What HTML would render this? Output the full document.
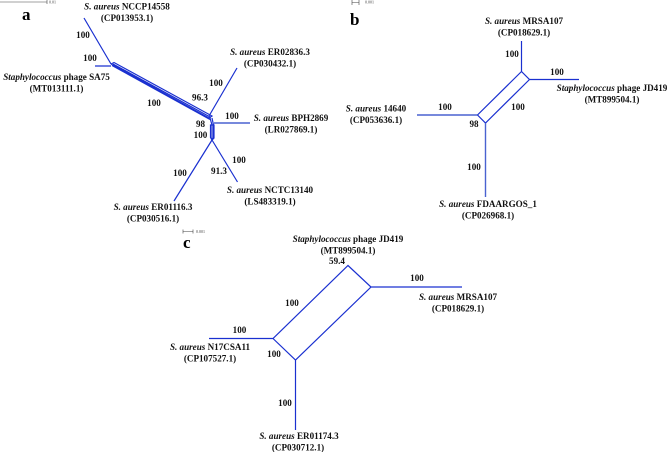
<!DOCTYPE html>
<html>
<head>
<meta charset="utf-8">
<style>
html,body{margin:0;padding:0;background:#fff;width:669px;height:452px;overflow:hidden}
svg{display:block;filter:blur(.25px)}
text{font-family:"Liberation Serif",serif;font-weight:bold;font-size:9.1px;fill:#111;text-anchor:middle}
tspan.i{font-style:italic}
text.p{font-size:17px;fill:#000;text-anchor:start}
text.s{font-size:4px;font-weight:normal;text-anchor:start;fill:#444}
.l{stroke:#1a30d0;stroke-width:1.2;fill:none}
.t{stroke:#4a62d0;stroke-width:1.4;fill:none}
.sb{stroke:#444;stroke-width:.6;fill:none}
</style>
</head>
<body>
<svg width="669" height="452" viewBox="0 0 669 452" xmlns="http://www.w3.org/2000/svg">
<!-- Panel a -->
<path class="sb" d="M0 2H47M47 0V4"/>
<text class="s" x="49" y="3.5">0.01</text>
<text class="p" x="22" y="20">a</text>
<path class="l" d="M84 18L111 64M95 66H111"/>
<path class="l" d="M111 64L114 62.500L212 116L209 118L111 64M112 65.500L210 119.500M113 64L211 117.500"/>
<path class="l" d="M209 116L237 68M210 118L212 125V138.500H213.500V125L212 118"/>
<path class="l" d="M212 125H214V138L212 140L210.500 137.500V125Z"/>
<path class="t" d="M214 123H250"/>
<path class="l" d="M212 140L174 201M212 140L237.500 182"/>
<text x="127" y="9.500"><tspan class="i">S. aureus</tspan> NCCP14558</text>
<text x="127" y="21">(CP013953.1)</text>
<text x="83" y="38">100</text>
<text x="90" y="61">100</text>
<text x="56.500" y="80"><tspan class="i">Staphylococcus</tspan> phage SA75</text>
<text x="56.500" y="91.500">(MT013111.1)</text>
<text x="154" y="106">100</text>
<text x="270" y="55"><tspan class="i">S. aureus</tspan> ER02836.3</text>
<text x="270" y="66.500">(CP030432.1)</text>
<text x="216" y="86">100</text>
<text x="200" y="100.500">96.3</text>
<text x="232" y="119">100</text>
<text x="291" y="121"><tspan class="i">S. aureus</tspan> BPH2869</text>
<text x="291" y="132.500">(LR027869.1)</text>
<text x="200.500" y="127">98</text>
<text x="200.500" y="138">100</text>
<text x="239" y="163">100</text>
<text x="219" y="174">91.3</text>
<text x="180" y="176">100</text>
<text x="270" y="193"><tspan class="i">S. aureus</tspan> NCTC13140</text>
<text x="270" y="204.500">(LS483319.1)</text>
<text x="153" y="210"><tspan class="i">S. aureus</tspan> ER01116.3</text>
<text x="153" y="221.500">(CP030516.1)</text>
<!-- Panel b -->
<path class="sb" d="M352 2.500H359M352 0V5M359 0V5"/>
<text class="s" x="365" y="3.500">0.001</text>
<text class="p" x="350" y="25">b</text>
<path class="l" d="M521.500 41V71.500L529.500 79.500H579M521.500 71.500L477.500 115L485.500 123L529.500 79.500"/>
<path class="t" d="M417 115H477.500M485.500 123V197"/>
<text x="524" y="24"><tspan class="i">S. aureus</tspan> MRSA107</text>
<text x="524" y="35.500">(CP018629.1)</text>
<text x="512" y="57">100</text>
<text x="557" y="75">100</text>
<text x="612" y="91"><tspan class="i">Staphylococcus</tspan> phage JD419</text>
<text x="612" y="102.500">(MT899504.1)</text>
<text x="445" y="110">100</text>
<text x="518" y="110">100</text>
<text x="376" y="111.500"><tspan class="i">S. aureus</tspan> 14640</text>
<text x="376" y="123">(CP053636.1)</text>
<text x="474" y="127">98</text>
<text x="474" y="170">100</text>
<text x="488" y="207"><tspan class="i">S. aureus</tspan> FDAARGOS_1</text>
<text x="488" y="218.500">(CP026968.1)</text>
<!-- Panel c -->
<path class="sb" d="M183 231.500H193M183 229.500V233.500M193 229.500V233.500"/>
<text class="s" x="196" y="233">0.001</text>
<text class="p" x="183" y="248">c</text>
<path class="l" d="M209 338.500H273L348 265.500L371 287L295.500 360L273 338.500M371 287H462M295.500 360V430"/>
<text x="348" y="242"><tspan class="i">Staphylococcus</tspan> phage JD419</text>
<text x="348" y="253.500">(MT899504.1)</text>
<text x="337" y="264">59.4</text>
<text x="417" y="281">100</text>
<text x="292" y="306">100</text>
<text x="239.500" y="333">100</text>
<text x="458" y="300"><tspan class="i">S. aureus</tspan> MRSA107</text>
<text x="458" y="311.500">(CP018629.1)</text>
<text x="210" y="350"><tspan class="i">S. aureus</tspan> N17CSA11</text>
<text x="210" y="361.500">(CP107527.1)</text>
<text x="274" y="357">100</text>
<text x="285" y="406">100</text>
<text x="299" y="439"><tspan class="i">S. aureus</tspan> ER01174.3</text>
<text x="298" y="450.500">(CP030712.1)</text>
</svg>
</body>
</html>
